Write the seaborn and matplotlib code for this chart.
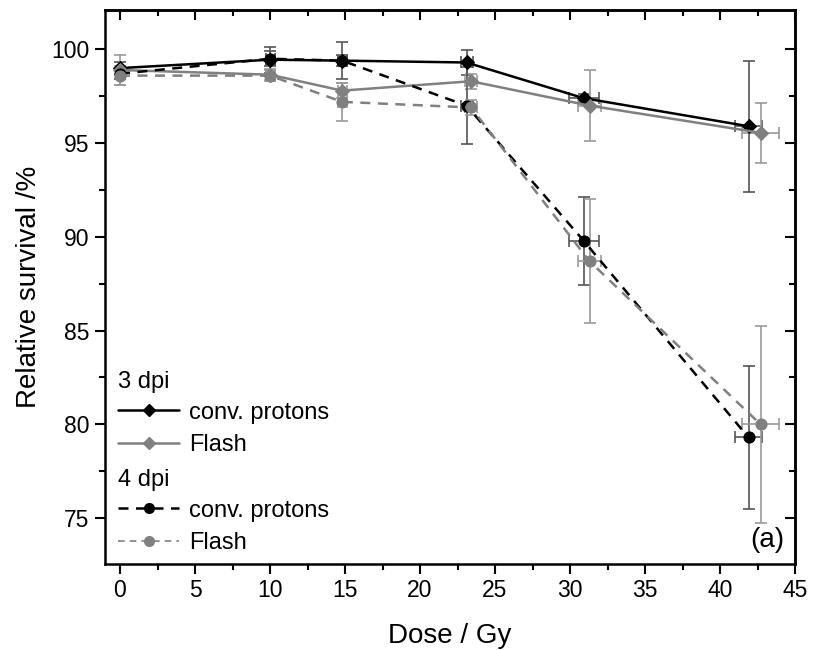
import matplotlib
matplotlib.use("Agg")
import matplotlib.pyplot as plt
import seaborn as sns
import pandas as pd
from matplotlib.lines import Line2D
from matplotlib.ticker import MultipleLocator

# ---- data ----
dose_conv = [0, 10, 14.8, 23.1, 30.9, 41.9]
dose_flash = [0, 10, 14.8, 23.4, 31.3, 42.7]
dose_conv_err = [0, 0.3, 0.3, 0.4, 1.0, 0.9]
dose_flash_err = [0, 0.3, 0.3, 0.4, 0.75, 1.25]

conv_3dpi = [99.0, 99.45, 99.4, 99.3, 97.4, 95.9]
conv_3dpi_err = [0.3, 0.7, 1.0, 0.65, 0.2, 3.5]
flash_3dpi = [98.9, 98.65, 97.8, 98.3, 97.0, 95.55]
flash_3dpi_err = [0.8, 0.3, 0.4, 0.4, 1.9, 1.6]

conv_4dpi = [98.7, 99.5, 99.4, 97.0, 89.8, 79.3]
conv_4dpi_err = [0.3, 0.4, 0.3, 2.05, 2.35, 3.8]
flash_4dpi = [98.6, 98.6, 97.2, 96.9, 88.7, 80.0]
flash_4dpi_err = [0.5, 0.3, 1.0, 0.4, 3.3, 5.25]

BLACK = "#000000"
GRAY = "#808080"

sns.set_theme(style="ticks")
plt.rcParams["font.family"] = ["Liberation Sans", "DejaVu Sans"]
for k in ["text.color", "axes.labelcolor", "xtick.color", "ytick.color"]:
    plt.rcParams[k] = "black"

fig = plt.figure(figsize=(8.18, 6.5), dpi=100)
ax = fig.add_axes([105 / 818, 86 / 650, 690 / 818, 554 / 650])

series = [
    (dose_conv, dose_conv_err, conv_3dpi, conv_3dpi_err, BLACK, "D", "-", "#555555"),
    (dose_flash, dose_flash_err, flash_3dpi, flash_3dpi_err, GRAY, "D", "-", "#9a9a9a"),
    (dose_conv, dose_conv_err, conv_4dpi, conv_4dpi_err, BLACK, "o", "--", "#555555"),
    (dose_flash, dose_flash_err, flash_4dpi, flash_4dpi_err, GRAY, "o", "--", "#9a9a9a"),
]

for x, xe, y, ye, col, mk, ls, ecol in series:
    ax.errorbar(x, y, yerr=ye, xerr=xe, fmt="none", ecolor=ecol,
                elinewidth=1.2, capsize=4, capthick=1.2, zorder=2)

for x, xe, y, ye, col, mk, ls, ecol in series:
    df = pd.DataFrame({"x": x, "y": y})
    sns.lineplot(data=df, x="x", y="y", ax=ax, color=col, marker=mk,
                 markersize=7 if mk == "D" else 8, markeredgecolor=col,
                 linewidth=1.8, linestyle=ls, zorder=3)
    if ls == "--":
        ax.lines[-1].set_dashes((4, 3))

ax.set_xlim(-1, 45)
ax.set_ylim(72.55, 102.1)
ax.xaxis.set_major_locator(MultipleLocator(5))
ax.xaxis.set_minor_locator(MultipleLocator(2.5))
ax.yaxis.set_major_locator(MultipleLocator(5))
ax.yaxis.set_minor_locator(MultipleLocator(2.5))
ax.set_yticks([75, 80, 85, 90, 95, 100])

ax.tick_params(which="both", direction="out", width=1.5, labelsize=16.5,
               top=False, right=False, pad=4)
ax.tick_params(which="major", length=7)
ax.tick_params(which="minor", length=4)

# mirrored inward ticks on top and right
sec_x = ax.secondary_xaxis("top")
sec_x.xaxis.set_major_locator(MultipleLocator(5))
sec_x.xaxis.set_minor_locator(MultipleLocator(2.5))
sec_x.tick_params(which="both", direction="in", labeltop=False, width=1.5)
sec_x.tick_params(which="major", length=7)
sec_x.tick_params(which="minor", length=4)
sec_y = ax.secondary_yaxis("right")
sec_y.yaxis.set_major_locator(MultipleLocator(5))
sec_y.yaxis.set_minor_locator(MultipleLocator(2.5))
sec_y.tick_params(which="both", direction="in", labelright=False, width=1.5)
sec_y.tick_params(which="major", length=7)
sec_y.tick_params(which="minor", length=4)
for sp in list(ax.spines.values()) + [sec_x.spines["top"], sec_y.spines["right"]]:
    sp.set_linewidth(1.8)
    sp.set_color("black")
    sp.set_visible(True)

ax.set_xlabel("Dose / Gy", fontsize=20, labelpad=15)
ax.set_ylabel("Relative survival /%", fontsize=20, labelpad=7)

# legends
h1 = [Line2D([], [], color=BLACK, marker="D", markersize=6, lw=1.8),
      Line2D([], [], color=GRAY, marker="D", markersize=6, lw=1.8)]
h2 = [Line2D([], [], color=BLACK, marker="o", markersize=7, lw=1.8, dashes=(4, 3)),
      Line2D([], [], color=GRAY, marker="o", markersize=7, lw=1.2, dashes=(4, 3))]
common = dict(frameon=False, fontsize=17, title_fontsize=17, loc="upper left",
              handlelength=2.6, handletextpad=0.4, borderpad=0, borderaxespad=0,
              labelspacing=0.45, alignment="left")
leg1 = ax.legend(h1, ["conv. protons", "Flash"], title="3 dpi",
                 bbox_to_anchor=(0.019, 0.348), **common)
ax.add_artist(leg1)
leg2 = ax.legend(h2, ["conv. protons", "Flash"], title="4 dpi",
                 bbox_to_anchor=(0.019, 0.171), **common)
for lg in (leg1, leg2):
    lg._legend_box.sep = 6

ax.text(0.985, 0.02, "(a)", transform=ax.transAxes, ha="right", va="bottom",
        fontsize=20)

fig.savefig("out.png", dpi=100, facecolor="white")
